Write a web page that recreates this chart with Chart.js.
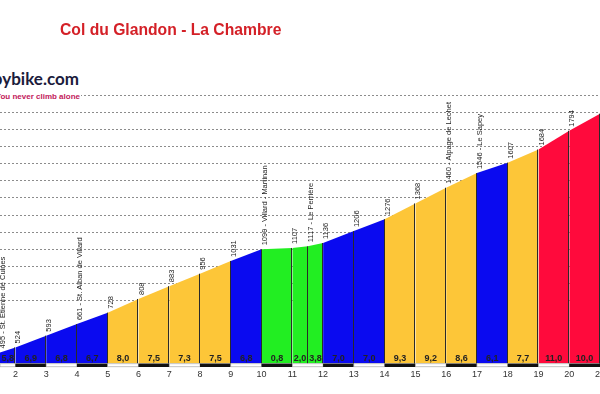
<!DOCTYPE html>
<html>
<head>
<meta charset="utf-8">
<title>Col du Glandon - La Chambre</title>
<script src="https://cdn.jsdelivr.net/npm/chart.js@4.4.0/dist/chart.umd.min.js"></script>
<style>
  html, body { margin: 0; padding: 0; background: #fff; }
  #wrap { position: relative; width: 600px; height: 394px; overflow: hidden; }
  #profile { position: absolute; left: 0; top: 0; }
  .title {
    position: absolute; left: 60px; top: 21px; line-height: 16px;
    font: bold 15.7px "Liberation Sans", Arial, sans-serif; color: #d42027; white-space: nowrap;
  }
  .logo {
    position: absolute; right: 521px; top: 68px; line-height: 17px;
    font: bold 17px Lato, sans-serif; color: #1c1c3c; background: #fff; white-space: nowrap;
  }
  .tagline {
    position: absolute; right: 519px; top: 92px; line-height: 9px; padding-right: 1px;
    font: bold 8px "Liberation Sans", Arial, sans-serif; color: #c2185b; background: #fff; white-space: nowrap;
  }
</style>
</head>
<body>
<div id="wrap">
  <canvas id="profile" width="600" height="394"></canvas>
  <div class="title">Col du Glandon - La Chambre</div>
  <div class="logo">climbbybike.com</div>
  <div class="tagline">You never climb alone</div>
</div>
<script>
// Climb profile: elevation at each km point, gradient per segment
const kmPoints = [1.5, 2, 3, 4, 5, 6, 7, 8, 9, 10, 11, 11.5, 12, 13, 14, 15, 16, 17, 18, 19, 20, 21];
const elevations = [495, 524, 593, 661, 728, 808, 883, 956, 1031, 1099, 1107, 1117, 1136, 1206, 1276, 1368, 1460, 1546, 1607, 1684, 1794, 1894];
const placeNames = ['St. Etienne de Cuines', '', '', 'St. Alban de Villard', '', '', '', '', '', 'Villard - Martinan', '', 'Le Perrière', '', '', '', '', 'Alpage de Lechet', 'Le Sapey', '', '', '', ''];
const gradients = ['5,8', '6,9', '6,8', '6,7', '8,0', '7,5', '7,3', '7,5', '6,8', '0,8', '2,0', '3,8', '7,0', '7,0', '9,3', '9,2', '8,6', '6,1', '7,7', '11,0', '10,0'];
const gridStart = 800;

const FONT = '"Liberation Sans", Arial, sans-serif';

const gradeColor = (label) => {
  const g = parseFloat(label.replace(',', '.'));
  if (g < 4) return '#22ee22';
  if (g <= 7) return '#0a0af0';
  if (g < 10) return '#fdc638';
  return '#ff0a3c';
};

const profileDecor = {
  id: 'profileDecor',
  afterDatasetsDraw(chart) {
    const { ctx, chartArea, scales: { x, y } } = chart;
    const base = chartArea.bottom;
    ctx.save();

    // dark dividers at every km mark
    ctx.strokeStyle = '#2a2a2a';
    ctx.lineWidth = 1;
    kmPoints.forEach((km, i) => {
      if (i === 0) return;
      const px = Math.round(x.getPixelForValue(km)) - 0.5;
      ctx.beginPath();
      ctx.moveTo(px, base);
      ctx.lineTo(px, y.getPixelForValue(elevations[i]));
      ctx.stroke();
    });

    // black / white km strip along the bottom
    for (let k = Math.floor(x.min); k < x.max; k++) {
      const x0 = x.getPixelForValue(Math.max(k, x.min));
      const x1 = x.getPixelForValue(k + 1);
      if (k % 2 === 0) {
        ctx.fillStyle = '#111';
        ctx.fillRect(x0, base, x1 - x0, 3.5);
      } else {
        ctx.fillStyle = '#fff';
        ctx.fillRect(x0, base, x1 - x0, 3.5);
        ctx.strokeStyle = '#999';
        ctx.lineWidth = 0.6;
        ctx.strokeRect(x0, base + 0.3, x1 - x0, 3);
      }
    }

    // km numbers under the strip, from the axis ticks
    ctx.font = `9px ${FONT}`;
    ctx.textAlign = 'center';
    ctx.textBaseline = 'middle';
    ctx.fillStyle = '#333';
    x.ticks.forEach((t) => {
      if (Number.isInteger(t.value)) {
        ctx.fillText(String(t.value), x.getPixelForValue(t.value), base + 11);
      }
    });

    // gradient per segment
    ctx.font = `bold 9px ${FONT}`;
    ctx.fillStyle = '#222';
    gradients.forEach((g, i) => {
      const cx = (x.getPixelForValue(kmPoints[i]) + x.getPixelForValue(kmPoints[i + 1])) / 2;
      ctx.fillText(g, cx, base - 5);
    });

    // elevation labels, rotated
    ctx.font = `7.5px ${FONT}`;
    ctx.textAlign = 'left';
    ctx.fillStyle = '#222';
    kmPoints.forEach((km, i) => {
      const text = placeNames[i] ? `${elevations[i]} - ${placeNames[i]}` : `${elevations[i]}`;
      ctx.save();
      ctx.translate(x.getPixelForValue(km) + 3, y.getPixelForValue(elevations[i]) - 4);
      ctx.rotate(-Math.PI / 2);
      ctx.fillText(text, 0, 0);
      ctx.restore();
    });

    ctx.restore();
  },
};

new Chart(document.getElementById('profile').getContext('2d'), {
  type: 'line',
  data: {
    datasets: gradients.map((g, i) => ({
      data: [
        { x: kmPoints[i], y: elevations[i] },
        { x: kmPoints[i + 1], y: elevations[i + 1] },
      ],
      fill: 'start',
      backgroundColor: gradeColor(g),
      borderWidth: 0,
      pointRadius: 0,
      tension: 0,
    })),
  },
  options: {
    responsive: false,
    animation: false,
    layout: { autoPadding: false, padding: { top: 95.6, left: 0, right: 0, bottom: 0 } },
    plugins: {
      legend: { display: false },
      tooltip: { enabled: false },
      title: { display: false },
    },
    scales: {
      x: {
        type: 'linear',
        min: 1.5,
        max: 21,
        grid: { display: false },
        border: { display: false },
        ticks: { display: false, stepSize: 1, includeBounds: false },
        afterFit: (scale) => { scale.height = 30.5; },
      },
      y: {
        min: 430,
        max: 2000,
        grid: {
          drawTicks: false,
          lineWidth: 1,
          color: (ctx) => (ctx.tick && ctx.tick.value >= gridStart ? '#8c8c8c' : 'rgba(0,0,0,0)'),
        },
        border: { display: false, dash: [2, 2] },
        ticks: { display: false, stepSize: 100 },
        afterFit: (scale) => { scale.width = 0; },
      },
    },
  },
  plugins: [profileDecor],
});
</script>
</body>
</html>
